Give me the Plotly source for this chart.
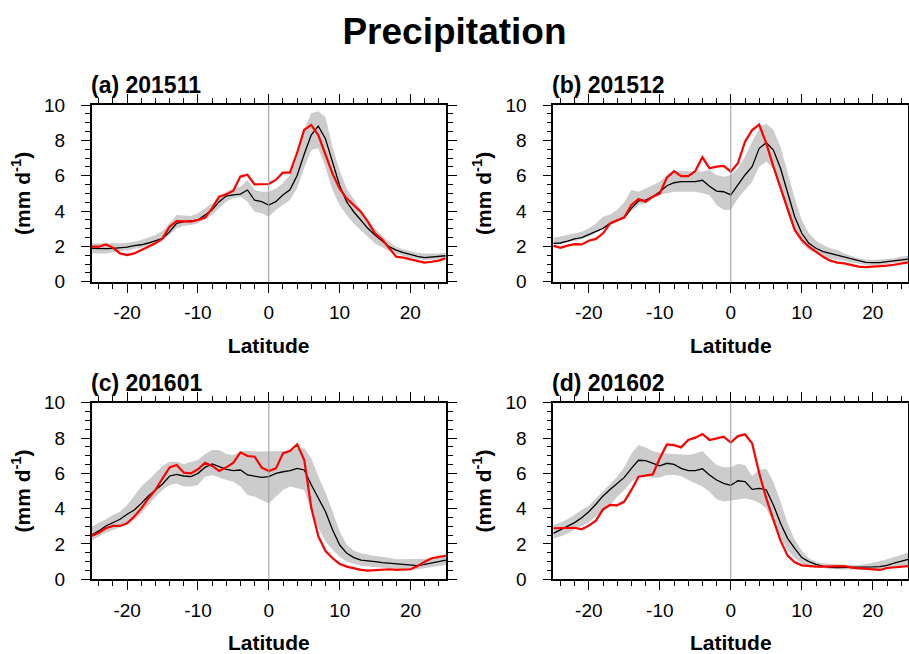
import plotly.graph_objects as go

# Latitude grid (degrees) and axis ticks
lat = list(range(-25, 26))
lat_ticks = [-20, -10, 0, 10, 20]
lat_tick_labels = ["-20", "-10", "0", "10", "20"]
precip_ticks = [0, 2, 4, 6, 8, 10]
precip_tick_labels = ["0", "2", "4", "6", "8", "10"]

panel_titles = ["(a) 201511", "(b) 201512", "(c) 201601", "(d) 201602"]

# (a) 201511 : observed, ensemble mean, ensemble min/max  (mm d-1)
obs_201511 = [1.98, 1.98, 2.11, 1.92, 1.60, 1.51, 1.60, 1.79, 1.94, 2.17,
              2.45, 3.11, 3.43, 3.43, 3.40, 3.49, 3.62, 4.15, 4.81, 4.94,
              5.15, 5.95, 6.05, 5.51, 5.51, 5.53, 5.76, 6.17, 6.17, 7.27,
              8.59, 8.87, 8.30, 7.17, 6.13, 5.28, 4.72, 4.34, 3.96, 3.40,
              2.74, 2.40, 1.89, 1.42, 1.36, 1.28, 1.17, 1.08, 1.13, 1.19, 1.32]
mean_201511 = [1.89, 1.87, 1.87, 1.89, 1.92, 1.96, 2.04, 2.09, 2.19, 2.30,
               2.45, 2.83, 3.30, 3.40, 3.43, 3.49, 3.77, 4.06, 4.53, 4.85,
               4.91, 4.96, 5.19, 4.62, 4.53, 4.34, 4.53, 4.91, 5.20, 6.00,
               7.20, 8.30, 8.80, 8.11, 6.79, 5.47, 4.53, 3.96, 3.49, 3.02,
               2.64, 2.30, 1.98, 1.79, 1.64, 1.55, 1.43, 1.36, 1.40, 1.47, 1.47]
max_201511 = [2.17, 2.17, 2.13, 2.13, 2.17, 2.21, 2.26, 2.36, 2.49, 2.64,
              2.87, 3.30, 3.77, 3.74, 3.72, 3.87, 4.15, 4.43, 4.81, 5.09,
              5.28, 5.38, 5.75, 5.19, 5.09, 5.09, 5.28, 5.57, 6.04, 7.00,
              8.59, 9.53, 9.65, 9.34, 7.64, 6.32, 5.28, 4.66, 4.06, 3.49,
              3.02, 2.60, 2.25, 1.98, 1.83, 1.74, 1.64, 1.60, 1.58, 1.60, 1.64]
min_201511 = [1.60, 1.60, 1.60, 1.66, 1.74, 1.77, 1.85, 1.92, 2.04, 2.17,
              2.30, 2.64, 3.02, 3.17, 3.21, 3.30, 3.55, 3.77, 4.15, 4.53,
              4.72, 4.81, 4.53, 3.96, 3.87, 3.68, 4.06, 4.34, 4.62, 5.28,
              6.42, 7.45, 7.55, 6.51, 5.19, 4.34, 3.77, 3.30, 2.93, 2.55,
              2.17, 1.95, 1.75, 1.60, 1.45, 1.36, 1.28, 1.23, 1.23, 1.28, 1.28]

# (b) 201512
obs_201512 = [2.04, 1.92, 2.04, 2.13, 2.11, 2.32, 2.42, 2.74, 3.30, 3.49,
              3.64, 4.34, 4.68, 4.53, 4.81, 5.00, 5.89, 6.26, 5.98, 5.98,
              6.26, 7.04, 6.42, 6.51, 6.55, 6.23, 6.70, 7.92, 8.58, 8.89,
              7.83, 6.51, 5.34, 4.15, 2.93, 2.36, 1.98, 1.70, 1.41, 1.19,
              1.08, 1.04, 0.94, 0.85, 0.83, 0.85, 0.89, 0.91, 0.96, 1.04, 1.09]
mean_201512 = [2.17, 2.19, 2.30, 2.42, 2.49, 2.68, 2.83, 3.02, 3.30, 3.49,
               3.62, 4.15, 4.57, 4.62, 4.81, 5.09, 5.43, 5.60, 5.66, 5.66,
               5.66, 5.74, 5.40, 5.13, 5.09, 4.91, 5.47, 6.04, 6.51, 7.55,
               7.87, 7.45, 6.42, 5.00, 3.68, 2.74, 2.17, 1.89, 1.70, 1.60,
               1.50, 1.40, 1.30, 1.18, 1.09, 1.08, 1.08, 1.13, 1.17, 1.23, 1.28]
max_201512 = [2.49, 2.55, 2.64, 2.74, 2.83, 3.02, 3.30, 3.68, 3.81, 4.06,
              4.50, 5.19, 5.09, 5.28, 5.47, 5.66, 6.04, 6.23, 6.26, 6.26,
              6.26, 6.23, 6.32, 6.04, 5.94, 6.04, 6.40, 7.08, 7.92, 8.68,
              8.96, 8.58, 7.64, 6.23, 4.72, 3.49, 2.74, 2.32, 2.08, 1.89,
              1.79, 1.60, 1.47, 1.32, 1.26, 1.23, 1.25, 1.28, 1.32, 1.42, 1.47]
min_201512 = [2.11, 2.13, 2.23, 2.32, 2.42, 2.55, 2.79, 3.02, 3.21, 3.40,
              3.58, 4.00, 4.34, 4.43, 4.68, 4.91, 5.00, 5.09, 5.09, 5.09,
              5.09, 5.00, 4.91, 4.34, 4.06, 4.06, 4.72, 5.19, 5.66, 6.51,
              6.79, 6.42, 5.19, 3.87, 2.83, 2.17, 1.79, 1.57, 1.41, 1.32,
              1.23, 1.19, 1.09, 1.00, 0.94, 0.92, 0.94, 1.00, 1.04, 1.09, 1.13]

# (c) 201601
obs_201601 = [2.47, 2.64, 2.89, 3.02, 3.02, 3.17, 3.55, 4.02, 4.58, 5.06,
              5.72, 6.34, 6.47, 6.04, 6.00, 6.23, 6.60, 6.42, 6.13, 6.34,
              6.60, 7.19, 6.98, 6.94, 6.32, 6.13, 6.28, 7.13, 7.28, 7.64,
              6.75, 4.02, 2.42, 1.60, 1.19, 0.87, 0.72, 0.62, 0.53, 0.49,
              0.51, 0.51, 0.57, 0.53, 0.53, 0.57, 0.75, 1.00, 1.19, 1.28, 1.34]
mean_201601 = [2.51, 2.74, 3.02, 3.21, 3.40, 3.68, 3.92, 4.30, 4.72, 5.06,
               5.40, 5.85, 5.94, 5.85, 5.81, 6.00, 6.34, 6.53, 6.38, 6.23,
               6.15, 6.19, 5.91, 5.85, 5.77, 5.81, 6.00, 6.09, 6.15, 6.28,
               6.19, 5.34, 4.58, 3.83, 2.79, 1.94, 1.47, 1.23, 1.09, 1.06,
               1.00, 0.94, 0.91, 0.87, 0.83, 0.79, 0.77, 0.85, 0.92, 1.00, 1.09]
max_201601 = [2.98, 3.17, 3.40, 3.64, 3.83, 4.21, 4.72, 5.25, 5.62, 6.00,
              6.42, 6.66, 6.66, 6.53, 6.66, 6.75, 7.09, 7.32, 7.32, 7.09,
              7.04, 7.23, 7.28, 7.23, 7.23, 7.23, 7.26, 7.26, 7.28, 7.42,
              7.42, 6.85, 5.80, 4.90, 3.83, 2.70, 1.94, 1.62, 1.47, 1.38,
              1.32, 1.28, 1.19, 1.13, 1.13, 1.13, 1.13, 1.17, 1.23, 1.28, 1.38]
min_201601 = [2.19, 2.42, 2.64, 2.79, 2.94, 3.13, 3.36, 3.74, 4.21, 4.68,
              5.06, 5.34, 5.43, 5.25, 5.25, 5.34, 5.81, 5.91, 5.77, 5.62,
              5.53, 5.25, 4.77, 4.68, 4.49, 4.30, 4.68, 5.06, 5.25, 5.15,
              5.06, 3.83, 2.90, 2.15, 1.66, 1.28, 1.00, 0.87, 0.77, 0.72,
              0.68, 0.64, 0.62, 0.58, 0.57, 0.57, 0.57, 0.62, 0.68, 0.75, 0.81]

# (d) 201602
obs_201602 = [2.89, 2.91, 2.92, 2.92, 2.83, 3.04, 3.32, 3.96, 4.21, 4.19,
              4.40, 5.06, 5.81, 5.87, 5.94, 6.85, 7.64, 7.60, 7.47, 7.89,
              8.02, 8.23, 7.89, 7.98, 8.08, 7.74, 8.11, 8.21, 7.70, 6.00,
              4.58, 3.36, 2.19, 1.34, 0.96, 0.79, 0.75, 0.72, 0.72, 0.72,
              0.74, 0.75, 0.66, 0.62, 0.57, 0.53, 0.53, 0.64, 0.68, 0.72, 0.75]
mean_201602 = [2.60, 2.79, 3.02, 3.21, 3.49, 3.83, 4.25, 4.72, 5.09, 5.43,
               5.77, 6.28, 6.74, 6.72, 6.57, 6.43, 6.57, 6.51, 6.28, 6.15,
               6.15, 6.26, 5.91, 5.62, 5.43, 5.32, 5.58, 5.53, 5.09, 5.15,
               5.06, 4.21, 3.17, 2.32, 1.75, 1.23, 1.00, 0.85, 0.75, 0.68,
               0.66, 0.66, 0.66, 0.66, 0.68, 0.70, 0.72, 0.79, 0.91, 1.00, 1.13]
max_201602 = [3.08, 3.21, 3.40, 3.64, 3.92, 4.17, 4.58, 4.96, 5.34, 5.81,
              6.34, 7.13, 7.60, 7.47, 7.26, 7.17, 7.13, 7.09, 7.04, 7.04,
              7.13, 7.26, 6.85, 6.47, 6.34, 6.34, 6.53, 6.47, 5.85, 6.19,
              6.28, 5.53, 4.40, 3.17, 2.23, 1.62, 1.19, 1.00, 0.91, 0.87,
              0.85, 0.83, 0.81, 0.81, 0.87, 0.94, 1.02, 1.13, 1.25, 1.36, 1.51]
min_201602 = [2.32, 2.42, 2.60, 2.79, 3.02, 3.23, 3.55, 3.89, 4.21, 4.68,
              5.06, 5.53, 5.77, 5.85, 5.75, 5.77, 5.91, 5.91, 5.85, 5.62,
              5.43, 5.25, 4.96, 4.53, 4.40, 4.45, 4.53, 4.58, 4.49, 4.34,
              4.02, 3.17, 2.32, 1.66, 1.19, 0.91, 0.75, 0.68, 0.62, 0.58,
              0.57, 0.57, 0.53, 0.53, 0.53, 0.53, 0.57, 0.62, 0.68, 0.75, 0.81]

panels = [
    (obs_201511, mean_201511, min_201511, max_201511),
    (obs_201512, mean_201512, min_201512, max_201512),
    (obs_201601, mean_201601, min_201601, max_201601),
    (obs_201602, mean_201602, min_201602, max_201602),
]

FONT = "Liberation Sans, Arial, Helvetica, sans-serif"
W, H = 909, 654

# panel frames in pixels: (left, right, top, bottom)
frames = [
    (91.7, 445.7, 105.0, 281.7),
    (553.3, 908.3, 105.0, 281.7),
    (91.7, 446.0, 402.7, 579.3),
    (553.3, 908.3, 402.7, 579.3),
]

fig = go.Figure()
layout_axes = {}

for i, ((obs, mean, lo, hi), title, (l, r, t, b)) in enumerate(zip(panels, panel_titles, frames)):
    n = i + 1
    xref = "x" if n == 1 else f"x{n}"
    yref = "y" if n == 1 else f"y{n}"

    # ensemble spread
    fig.add_trace(go.Scatter(
        x=lat + lat[::-1], y=hi + lo[::-1], fill="toself",
        fillcolor="#cccccc", line=dict(width=0), mode="lines",
        hoverinfo="skip", showlegend=False, xaxis=xref, yaxis=yref))
    # ensemble mean
    fig.add_trace(go.Scatter(
        x=lat, y=mean, mode="lines", line=dict(color="black", width=1.3),
        showlegend=False, xaxis=xref, yaxis=yref))
    # observation
    fig.add_trace(go.Scatter(
        x=lat, y=obs, mode="lines", line=dict(color="#ff0000", width=2.2),
        showlegend=False, xaxis=xref, yaxis=yref))

    xdom = [l / W, r / W]
    ydom = [1 - b / H, 1 - t / H]

    xkey = "xaxis" if n == 1 else f"xaxis{n}"
    ykey = "yaxis" if n == 1 else f"yaxis{n}"
    layout_axes[xkey] = dict(
        domain=xdom, anchor=yref, range=[-25, 25], automargin=False,
        tickmode="array", tickvals=lat_ticks, ticktext=lat_tick_labels,
        ticks="outside", ticklen=9, tickwidth=1.4, tickcolor="black",
        ticklabelstandoff=4,
        minor=dict(tickmode="linear", tick0=0, dtick=2, ticks="outside",
                   ticklen=5, tickwidth=1.1, tickcolor="black", showgrid=False),
        showline=True, linecolor="black", linewidth=1.6, mirror="ticks",
        showgrid=False, zeroline=False,
        tickfont=dict(family=FONT, size=19, color="black"),
        title=dict(text="Latitude", standoff=16,
                   font=dict(family=FONT, size=21, color="black", weight="bold")),
    )
    layout_axes[ykey] = dict(
        domain=ydom, anchor=xref, range=[0, 10], automargin=False,
        tickmode="array", tickvals=precip_ticks, ticktext=precip_tick_labels,
        ticks="outside", ticklen=9, tickwidth=1.4, tickcolor="black",
        ticklabelstandoff=12,
        minor=dict(tickmode="linear", tick0=0, dtick=0.5, ticks="outside",
                   ticklen=5, tickwidth=1.1, tickcolor="black", showgrid=False),
        showline=True, linecolor="black", linewidth=1.6, mirror="ticks",
        showgrid=False, zeroline=False,
        tickfont=dict(family=FONT, size=19, color="black"),
        title=dict(text="(mm d<sup>-1</sup>)", standoff=8,
                   font=dict(family=FONT, size=21, color="black", weight="bold")),
    )

    # equator reference line
    fig.add_shape(type="line", xref=xref, yref=f"{yref} domain",
                  x0=0, x1=0, y0=0, y1=1, layer="above",
                  line=dict(color="#9a9a9a", width=1))

    # panel label
    fig.add_annotation(text=title, xref="paper", yref="paper",
                       x=xdom[0], y=ydom[1], xanchor="left", yanchor="bottom",
                       xshift=-3, yshift=5, showarrow=False,
                       font=dict(family=FONT, size=23, color="black", weight="bold"))

fig.update_layout(
    width=W, height=H,
    margin=dict(l=0, r=0, t=0, b=0, autoexpand=False),
    paper_bgcolor="white", plot_bgcolor="white",
    title=dict(text="Precipitation", x=0.5, xanchor="center",
               y=1 - 31 / H, yanchor="middle", yref="container",
               font=dict(family=FONT, size=37, color="black", weight="bold")),
    showlegend=False,
    **layout_axes,
)

fig.write_html("out.html")
